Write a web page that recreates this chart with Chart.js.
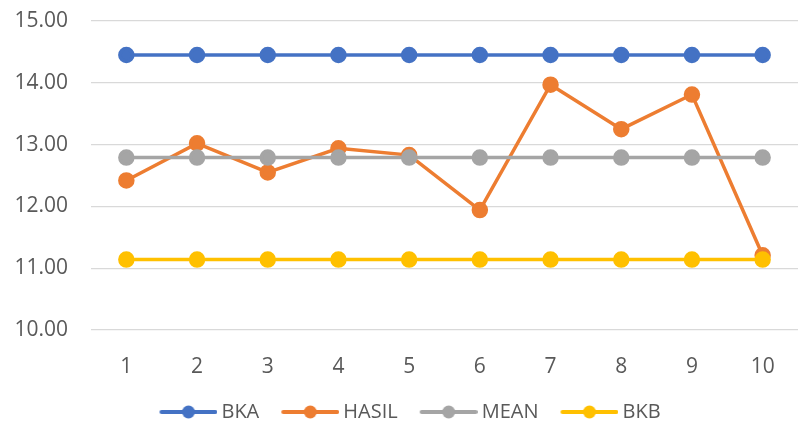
<!DOCTYPE html>
<html>
<head>
<meta charset="utf-8">
<script src="https://cdn.jsdelivr.net/npm/chart.js@4/dist/chart.umd.min.js"></script>
<style>
html,body{margin:0;padding:0;background:#fff;}
#wrap{width:798px;height:422px;position:relative;}
</style>
</head>
<body>
<div id="wrap"><canvas id="c" width="798" height="422"></canvas></div>
<script>
const categories = ['1','2','3','4','5','6','7','8','9','10'];
const BKA   = [14.45,14.45,14.45,14.45,14.45,14.45,14.45,14.45,14.45,14.45];
const HASIL = [12.42,13.02,12.55,12.94,12.83,11.94,13.97,13.25,13.81,11.21];
const MEAN  = [12.79,12.79,12.79,12.79,12.79,12.79,12.79,12.79,12.79,12.79];
const BKB   = [11.14,11.14,11.14,11.14,11.14,11.14,11.14,11.14,11.14,11.14];
const seriesNames = ['BKA','HASIL','MEAN','BKB'];
const colors = ['#4472C4','#ED7D31','#A5A5A5','#FFC000'];
const FONT = '"Open Sans", sans-serif';

function legendImg(color){
  const c = document.createElement('canvas');
  c.width = 86; c.height = 16;
  const x = c.getContext('2d');
  x.strokeStyle = color; x.lineWidth = 4; x.lineCap = 'round';
  x.beginPath(); x.moveTo(30,8); x.lineTo(84,8); x.stroke();
  x.fillStyle = color;
  x.beginPath(); x.arc(57,8,6.5,0,Math.PI*2); x.fill();
  return c;
}

const seriesData = [BKA, HASIL, MEAN, BKB];
const datasets = seriesData.map((d,i)=>({
  label: seriesNames[i],
  data: d,
  borderColor: colors[i],
  backgroundColor: colors[i],
  pointBackgroundColor: colors[i],
  pointBorderColor: colors[i],
  borderWidth: 3.5,
  pointRadius: 6.5,
  pointHoverRadius: 6.5,
  tension: 0,
  fill: false,
  order: 3 - i
}));

new Chart(document.getElementById('c'), {
  type: 'line',
  data: { labels: categories, datasets },
  options: {
    responsive: false,
    animation: false,
    layout: { autoPadding: false, padding: { top: 21, right: 0, left: 0, bottom: -10 } },
    scales: {
      x: {
        offset: true,
        grid: { display: true, drawOnChartArea: false, drawTicks: true, tickLength: 24, color: 'rgba(0,0,0,0)' },
        border: { display: false },
        ticks: { color: '#595959', font: { family: FONT, size: 21 }, padding: 0, maxRotation: 0 },
        afterFit: s => { s.height = 72; }
      },
      y: {
        min: 10, max: 15,
        ticks: { stepSize: 1, color: '#595959', font: { family: FONT, size: 21 }, padding: 0,
                 callback: v => Number(v).toFixed(2) },
        grid: { color: '#D9D9D9', lineWidth: 1.3, drawTicks: true, tickLength: 23, tickColor: 'rgba(0,0,0,0)' },
        border: { display: false },
        afterFit: s => { s.width = 91; }
      }
    },
    plugins: {
      tooltip: { enabled: false },
      legend: {
        position: 'bottom',
        labels: {
          usePointStyle: true,
          pointStyleWidth: 74,
          padding: 0,
          color: '#595959',
          font: { family: FONT, size: 20 },
          generateLabels: chart => chart.data.datasets.map((ds,i)=>({
            text: ds.label,
            fillStyle: ds.borderColor,
            strokeStyle: ds.borderColor,
            lineWidth: 0,
            pointStyle: legendImg(ds.borderColor),
            datasetIndex: i,
            hidden: false,
            fontColor: '#595959'
          }))
        }
      }
    }
  }
});
</script>
</body>
</html>
